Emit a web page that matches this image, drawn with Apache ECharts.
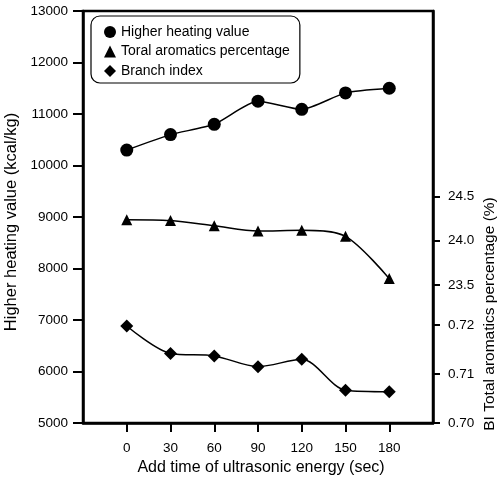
<!DOCTYPE html>
<html>
<head>
<meta charset="utf-8">
<script src="https://cdn.jsdelivr.net/npm/echarts@6/dist/echarts.min.js"></script>
<style>
html, body { margin: 0; padding: 0; background: #fff; }
#chart { width: 497px; height: 481px; }
</style>
</head>
<body>
<div id="chart"></div>
<script>
const FONT = "Liberation Sans";
// first and last slots are empty margins on the time axis
const timeSlots = ["-30", "0", "30", "60", "90", "120", "150", "180", "210"];
const times = ["0", "30", "60", "90", "120", "150", "180"];
const heatingValue = [10300, 10600, 10800, 11250, 11090, 11410, 11500];
const aromatics = [24.24, 24.23, 24.17, 24.11, 24.12, 24.05, 23.57];
const branchIndex = [0.7198, 0.7142, 0.7137, 0.7115, 0.7130, 0.7067, 0.7064];
const aromaticsTicks = [23.5, 24.0, 24.5];
const biTicks = [0.70, 0.71, 0.72];

const chart = echarts.init(document.getElementById("chart"));

function pairs (ys) {
	return times.map((t, i) => [t, ys[i]]);
}

const black = "#000";
const inner = index => index > 0 && index < timeSlots.length - 1;

option = {
	backgroundColor: "#fff",
	animation: false,
	grid: {
		left: 83, right: 64, top: 11, bottom: 58,
		outerBoundsMode: "none",
		show: true,
		borderColor: black,
		borderWidth: 2.5
	},
	legend: {
		orient: "vertical",
		left: 91,
		top: 16,
		padding: [9, 10, 5, 13],
		itemGap: 5.5,
		itemWidth: 12,
		itemHeight: 12,
		borderColor: black,
		borderWidth: 1.2,
		borderRadius: 9,
		textStyle: { fontFamily: FONT, fontSize: 14, color: black },
		data: [
			{ name: "Higher heating value", icon: "circle" },
			{ name: "Toral aromatics percentage", icon: "triangle" },
			{ name: "Branch index", icon: "diamond" }
		]
	},
	xAxis: {
		type: "category",
		data: timeSlots,
		boundaryGap: false,
		name: "Add time of ultrasonic energy (sec)",
		nameLocation: "middle",
		nameGap: 34,
		nameTextStyle: { fontFamily: FONT, fontSize: 16, color: black, padding: [0, 0, 0, 6] },
		axisLine: { show: true, lineStyle: { color: black, width: 2.5 } },
		axisTick: { show: true, length: 9, interval: inner, lineStyle: { color: black, width: 2 } },
		axisLabel: { fontFamily: FONT, fontSize: 13.5, color: black, margin: 18, interval: inner },
		splitLine: { show: false }
	},
	yAxis: [{
		type: "value",
		min: 5000,
		max: 13000,
		interval: 1000,
		name: "Higher heating value (kcal/kg)",
		nameLocation: "middle",
		nameGap: 49,
		nameTextStyle: { fontFamily: FONT, fontSize: 16.5, color: black, padding: [0, 10, 0, 0] },
		axisLine: { show: true, lineStyle: { color: black, width: 2.5 } },
		axisTick: { show: true, length: 10, lineStyle: { color: black, width: 2 } },
		axisLabel: { fontFamily: FONT, fontSize: 13.5, color: black, margin: 15, formatter: v => String(v) },
		splitLine: { show: false }
	}, {
		type: "value",
		position: "right",
		min: 21.93,
		max: 26.61,
		axisLine: { show: true, lineStyle: { color: black, width: 2.5 } },
		axisTick: { show: true, length: 7, lineStyle: { color: black, width: 2 }, customValues: aromaticsTicks },
		axisLabel: {
			fontFamily: FONT, fontSize: 13.5, color: black, margin: 15,
			customValues: aromaticsTicks,
			formatter: v => v.toFixed(1)
		},
		splitLine: { show: false }
	}, {
		type: "value",
		position: "right",
		min: 0.70,
		max: 0.7841,
		axisLine: { show: false },
		axisTick: { show: true, length: 7, lineStyle: { color: black, width: 2 }, customValues: biTicks },
		axisLabel: {
			fontFamily: FONT, fontSize: 13.5, color: black, margin: 15,
			customValues: biTicks,
			formatter: v => v.toFixed(2)
		},
		splitLine: { show: false }
	}],
	graphic: [{
		type: "text",
		x: 490,
		y: 314,
		rotation: Math.PI / 2,
		style: {
			text: "BI Total aromatics percentage (%)",
			fontFamily: FONT,
			fontSize: 15.5,
			fill: black,
			align: "center",
			verticalAlign: "middle"
		}
	}],
	series: [{
		name: "Higher heating value",
		type: "line",
		data: pairs(heatingValue),
		yAxisIndex: 0,
		smooth: 0.2,
		symbol: "circle",
		symbolSize: 13,
		itemStyle: { color: black },
		lineStyle: { color: black, width: 1.5 }
	}, {
		name: "Toral aromatics percentage",
		type: "line",
		data: pairs(aromatics),
		yAxisIndex: 1,
		smooth: 0.3,
		symbol: "triangle",
		symbolSize: 11,
		itemStyle: { color: black },
		lineStyle: { color: black, width: 1.5 }
	}, {
		name: "Branch index",
		type: "line",
		data: pairs(branchIndex),
		yAxisIndex: 2,
		smooth: 0.3,
		symbol: "diamond",
		symbolSize: 13,
		itemStyle: { color: black },
		lineStyle: { color: black, width: 1.5 }
	}]
};

chart.setOption(option);
window.onresize = chart.resize;
</script>
</body>
</html>
